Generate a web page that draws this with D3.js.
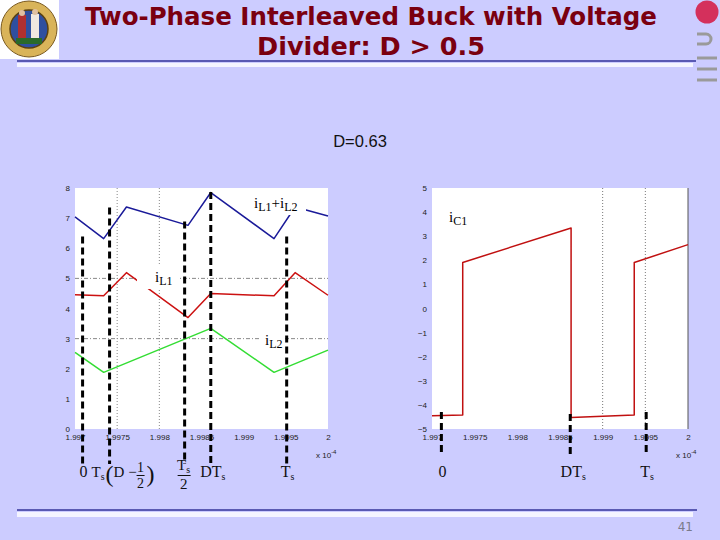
<!DOCTYPE html>
<html>
<head>
<meta charset="utf-8">
<script src="https://cdn.jsdelivr.net/npm/d3@7"></script>
<style>
  body { margin: 0; background: #ccccff; }
  svg { display: block; }
</style>
</head>
<body>
<svg id="slide" width="720" height="540"></svg>
<script>
// time in units of 1e-4 s
const xTicks = [1.997, 1.9975, 1.998, 1.9985, 1.999, 1.9995, 2];
const xTickLabels = ["1.997", "1.9975", "1.998", "1.9985", "1.999", "1.9995", "2"];
const leftYTicks = [0, 1, 2, 3, 4, 5, 6, 7, 8];
const rightYTicks = [-5, -4, -3, -2, -1, 0, 1, 2, 3, 4, 5];

// iL1 + iL2
const sumT = [1.997, 1.99734, 1.99761, 1.99834, 1.99861, 1.99936, 1.99961, 2.0];
const sumI = [7.04, 6.32, 7.37, 6.76, 7.85, 6.32, 7.37, 7.07];
// iL1
const iL1T = [1.997, 1.99734, 1.99761, 1.99834, 1.99861, 1.99936, 1.99961, 2.0];
const iL1 = [4.46, 4.42, 5.19, 3.70, 4.50, 4.42, 5.19, 4.44];
// iL2
const iL2T = [1.997, 1.99734, 1.99861, 1.99936, 2.0];
const iL2 = [2.54, 1.88, 3.34, 1.88, 2.62];
// iC1
const iC1T = [1.997, 1.99736, 1.99736, 1.99863, 1.99863, 1.99937, 1.99937, 2.0];
const iC1 = [-4.45, -4.42, 1.91, 3.34, -4.52, -4.42, 1.91, 2.65];

// dashed time markers (time, top value)
const leftMarkT = [1.99709, 1.99741, 1.99830, 1.99861, 1.99951];
const leftMarkTop = [6.39, 7.35, 6.89, 7.87, 6.39];
const rightMarkT = [1.99711, 1.99862, 1.99951];
const rightMarkTop = [-4.29, -4.38, -4.29];

const leftGridX = [1.9975, 1.998];
const leftGridY = [3, 5];
const rightGridX = [1.999, 1.9995];

const svg = d3.select("#slide");

// ---- slide decoration ----
svg.append("rect").attr("width", 720).attr("height", 540).attr("fill", "#ccccff");

// logo
const logo = svg.append("g");
logo.append("rect").attr("x", 0).attr("y", 0).attr("width", 59).attr("height", 59).attr("fill", "#fff");
logo.append("circle").attr("cx", 29).attr("cy", 29).attr("r", 28).attr("fill", "#d9b45a").attr("stroke", "#7a5a20").attr("stroke-width", 1);
logo.append("circle").attr("cx", 29).attr("cy", 29).attr("r", 19).attr("fill", "#2f4f9f").attr("stroke", "#5a4010").attr("stroke-width", 1.5);
logo.append("rect").attr("x", 18).attr("y", 15).attr("width", 8).attr("height", 24).attr("fill", "#b03030");
logo.append("rect").attr("x", 31).attr("y", 14).attr("width", 8).attr("height", 26).attr("fill", "#f0e8e0");
logo.append("circle").attr("cx", 22).attr("cy", 13).attr("r", 3).attr("fill", "#e0c0a0");
logo.append("circle").attr("cx", 35).attr("cy", 12).attr("r", 3).attr("fill", "#e0c0a0");
logo.append("rect").attr("x", 16).attr("y", 38).attr("width", 26).attr("height", 6).attr("fill", "#2a6a2a");

// right-hand emblem
svg.append("circle").attr("cx", 707).attr("cy", 12).attr("r", 11.5).attr("fill", "#d4305c");
svg.append("path").attr("d", "M697,34 H706 A5,5 0 0 1 706,44 H697")
  .attr("fill", "none").attr("stroke", "#9a9a9a").attr("stroke-width", 3);
[58, 69, 80].forEach(y => {
  svg.append("line").attr("x1", 697).attr("x2", 717).attr("y1", y).attr("y2", y)
    .attr("stroke", "#9a9a9a").attr("stroke-width", 3);
});

// title
const title = svg.append("g").attr("fill", "#7a0010")
  .attr("font-family", "DejaVu Sans").attr("font-weight", "bold").attr("font-size", 25).attr("text-anchor", "middle");
title.append("text").attr("x", 371).attr("y", 25)
  .attr("textLength", 572).attr("lengthAdjust", "spacingAndGlyphs")
  .text("Two-Phase Interleaved Buck with Voltage");
title.append("text").attr("x", 371).attr("y", 55)
  .attr("textLength", 228).attr("lengthAdjust", "spacingAndGlyphs")
  .text("Divider: D > 0.5");

// rules
svg.append("line").attr("x1", 17).attr("x2", 696).attr("y1", 61).attr("y2", 61)
  .attr("stroke", "#33339a").attr("stroke-width", 1.5);
svg.append("rect").attr("x", 17).attr("y", 63).attr("width", 676).attr("height", 4).attr("fill", "#f4f4ff");
svg.append("line").attr("x1", 17).attr("x2", 697).attr("y1", 510).attr("y2", 510)
  .attr("stroke", "#33339a").attr("stroke-width", 1.5);
svg.append("rect").attr("x", 17).attr("y", 512).attr("width", 676).attr("height", 5).attr("fill", "#f4f4ff");

svg.append("text").attr("x", 693).attr("y", 531).attr("text-anchor", "end")
  .attr("font-family", "DejaVu Sans").attr("font-size", 12).attr("fill", "#7a7a8a").text("41");

svg.append("text").attr("x", 360).attr("y", 147).attr("text-anchor", "middle")
  .attr("font-family", "Liberation Sans").attr("font-size", 16.5).attr("fill", "#111").text("D=0.63");

// ---- helpers ----
function panel(x0, x1, yDomain, yTicks) {
  const x = d3.scaleLinear().domain([1.997, 2]).range([x0, x1]);
  const y = d3.scaleLinear().domain(yDomain).range([429, 188]);
  const g = svg.append("g");
  g.append("rect").attr("x", x0).attr("y", 188).attr("width", x1 - x0).attr("height", 241).attr("fill", "#fff");

  const ax = g.append("g").attr("transform", "translate(0,429)")
    .call(d3.axisBottom(x).tickValues(xTicks).tickFormat((d, i) => xTickLabels[i]).tickSize(0).tickPadding(5));
  const ay = g.append("g").attr("transform", "translate(" + x0 + ",0)")
    .call(d3.axisLeft(y).tickValues(yTicks).tickFormat(d3.format("d")).tickSize(0).tickPadding(5));
  [ax, ay].forEach(a => {
    a.select(".domain").remove();
    a.selectAll("text").attr("font-family", "Liberation Sans").attr("font-size", 8).attr("fill", "#222");
  });

  const xl = g.append("text").attr("x", x1 - 12).attr("y", 458)
    .attr("font-family", "Liberation Sans").attr("font-size", 8).attr("fill", "#222");
  xl.append("tspan").text("x 10");
  xl.append("tspan").attr("dy", -4).attr("font-size", 6).text("-4");
  return {x, y, g};
}

function curve(p, ts, vs, color) {
  const line = d3.line().x(d => p.x(d[0])).y(d => p.y(d[1]));
  p.g.append("path").datum(d3.zip(ts, vs))
    .attr("fill", "none").attr("stroke", color).attr("stroke-width", 1.5)
    .attr("stroke-linejoin", "round").attr("d", line);
}

function grid(p, gx, gy, color) {
  p.g.selectAll(null).data(gx).join("line")
    .attr("x1", d => p.x(d)).attr("x2", d => p.x(d)).attr("y1", 188).attr("y2", 429)
    .attr("stroke", color).attr("stroke-width", 1).attr("stroke-dasharray", "1,2");
  p.g.selectAll(null).data(gy).join("line")
    .attr("y1", d => p.y(d)).attr("y2", d => p.y(d)).attr("x1", p.x.range()[0]).attr("x2", p.x.range()[1])
    .attr("stroke", color).attr("stroke-width", 1).attr("stroke-dasharray", "4,2,1,2");
}

// label like i_L1 with an optional white box behind it
function subLabel(p, x, y, parts, box) {
  if (box) p.g.append("rect").attr("x", box[0]).attr("y", box[1]).attr("width", box[2]).attr("height", box[3]).attr("fill", "#fff");
  const t = p.g.append("text").attr("x", x).attr("y", y)
    .attr("font-family", "Liberation Serif").attr("font-size", 15).attr("fill", "#000");
  let low = false;
  parts.forEach(([s, sub]) => {
    const ts = t.append("tspan").text(s);
    if (sub && !low) { ts.attr("dy", 3).attr("font-size", 12); low = true; }
    else if (sub) ts.attr("font-size", 12);
    else if (low) { ts.attr("dy", -3); low = false; }
  });
}

function markers(p, ts, tops, bottom) {
  p.g.selectAll(null).data(d3.zip(ts, tops)).join("line")
    .attr("x1", d => p.x(d[0])).attr("x2", d => p.x(d[0]))
    .attr("y1", d => p.y(d[1])).attr("y2", bottom)
    .attr("stroke", "#000").attr("stroke-width", 3).attr("stroke-dasharray", "7,4");
}

function mathText(x, y, parts, anchor, size) {
  const t = svg.append("text").attr("x", x).attr("y", y).attr("text-anchor", anchor || "middle")
    .attr("font-family", "Liberation Serif").attr("font-size", size || 16).attr("fill", "#111");
  parts.forEach(([s, sub]) => {
    const ts = t.append("tspan").text(s);
    if (sub) ts.attr("font-size", 10).attr("dy", 3);
  });
  return t;
}

// ---- left panel ----
const L = panel(75, 328, [0, 8], leftYTicks);
grid(L, leftGridX, leftGridY, "#888");
curve(L, iL2T, iL2, "#33dd33");
curve(L, iL1T, iL1, "#cc1111");
curve(L, sumT, sumI, "#1a1a99");
markers(L, leftMarkT, leftMarkTop, 464);

subLabel(L, 254, 208, [["i"], ["L1", 1], ["+i"], ["L2", 1]], [251, 194, 55, 21]);
subLabel(L, 155, 282, [["i"], ["L1", 1]], [137, 266, 41, 23]);
subLabel(L, 265, 345, [["i"], ["L2", 1]], [259, 330, 26, 21]);

// marker labels, left
mathText(L.x(leftMarkT[0]) + 1, 477, [["0"]]);
{
  const x0 = L.x(leftMarkT[1]);
  mathText(x0 - 18, 477, [["T"], ["s", 1]], "start", 15);
  svg.append("text").attr("x", x0 - 4).attr("y", 482).attr("font-family", "Liberation Serif")
    .attr("font-size", 24).attr("fill", "#111").text("(");
  mathText(x0 + 4, 477, [["D −"]], "start", 15);
  mathText(x0 + 31, 472, [["1"]], "middle", 14);
  svg.append("line").attr("x1", x0 + 27).attr("x2", x0 + 35).attr("y1", 475.5).attr("y2", 475.5).attr("stroke", "#111");
  mathText(x0 + 31, 488, [["2"]], "middle", 14);
  svg.append("text").attr("x", x0 + 37).attr("y", 482).attr("font-family", "Liberation Serif")
    .attr("font-size", 24).attr("fill", "#111").text(")");
}
{
  const x0 = L.x(leftMarkT[2]);
  mathText(x0 - 1, 470, [["T"], ["s", 1]], "middle", 15);
  svg.append("line").attr("x1", x0 - 7).attr("x2", x0 + 6).attr("y1", 475.5).attr("y2", 475.5).attr("stroke", "#111");
  mathText(x0 - 1, 489, [["2"]], "middle", 15);
}
mathText(L.x(leftMarkT[3]) + 2, 477, [["DT"], ["s", 1]]);
mathText(L.x(leftMarkT[4]) + 1, 477, [["T"], ["s", 1]]);

// ---- right panel ----
const R = panel(432, 688, [-5, 5], rightYTicks);
grid(R, rightGridX, [], "#777");
R.g.append("line").attr("x1", 688).attr("x2", 688).attr("y1", 188).attr("y2", 429).attr("stroke", "#555").attr("stroke-width", 1);
curve(R, iC1T, iC1, "#c01010");
markers(R, rightMarkT, rightMarkTop, 454);
subLabel(R, 449, 222, [["i"], ["C1", 1]], null);
mathText(R.x(rightMarkT[0]) + 1, 477, [["0"]]);
mathText(R.x(rightMarkT[1]) + 3, 477, [["DT"], ["s", 1]]);
mathText(R.x(rightMarkT[2]) + 1, 477, [["T"], ["s", 1]]);
</script>
</body>
</html>
